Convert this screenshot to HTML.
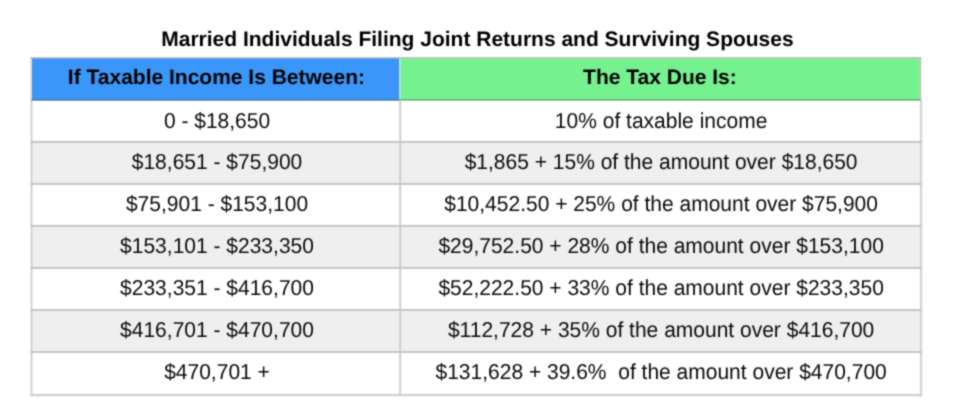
<!DOCTYPE html>
<html><head><meta charset="utf-8"><title>Tax table</title>
<style>
html,body{margin:0;padding:0;background:#fff;}
body{width:960px;height:419px;overflow:hidden;}
svg{display:block;text-rendering:geometricPrecision;font-family:"Liberation Sans",Arial,sans-serif;}
.t{font-size:21px;fill:#0a0a0a;text-anchor:middle;}
.b{font-size:21px;font-weight:bold;fill:#000;text-anchor:middle;}
.ti{font-size:21.01px;font-weight:bold;fill:#000;text-anchor:middle;}
</style></head><body>
<svg width="960" height="419" viewBox="0 0 960 419">
<defs><filter id="bl" filterUnits="userSpaceOnUse" x="0" y="0" width="960" height="419" color-interpolation-filters="sRGB"><feConvolveMatrix order="3" kernelMatrix="0.0361 0.1178 0.0361 0.1178 0.3846 0.1178 0.0361 0.1178 0.0361" edgeMode="duplicate" preserveAlpha="false"/></filter></defs>
<rect x="0" y="0" width="960" height="419" fill="#ffffff"/>
<g filter="url(#bl)">
<rect x="0" y="0" width="960" height="419" fill="#ffffff"/>
<rect x="31.80" y="58.20" width="367.50" height="42.38" fill="#3a96f8"/>
<rect x="400.30" y="58.20" width="519.30" height="42.38" fill="#76f190"/>
<rect x="31.50" y="141.90" width="889.50" height="42.02" fill="#efefef"/>
<rect x="31.50" y="225.94" width="889.50" height="42.02" fill="#efefef"/>
<rect x="31.50" y="309.98" width="889.50" height="42.02" fill="#efefef"/>
<rect x="30.30" y="57.20" width="1.50" height="43.38" fill="#ddd8d0"/>
<rect x="30.50" y="100.58" width="2.00" height="295.62" fill="#d2d2d2"/>
<rect x="399.30" y="58.20" width="1.00" height="42.38" fill="#c4cce0"/>
<rect x="399.20" y="100.58" width="2.00" height="294.52" fill="#cecece"/>
<rect x="919.60" y="57.20" width="1.50" height="43.38" fill="#a9c4ad"/>
<rect x="919.90" y="100.58" width="2.30" height="295.62" fill="#d4d4d4"/>
<rect x="30.70" y="57.20" width="890.40" height="1.20" fill="#b4b4b4"/>
<rect x="31.00" y="99.08" width="890.10" height="1.50" fill="#404040" fill-opacity="0.36"/>
<rect x="30.50" y="140.90" width="891.50" height="2.00" fill="#c6c6c6"/>
<rect x="30.50" y="182.92" width="891.50" height="2.00" fill="#c6c6c6"/>
<rect x="30.50" y="224.94" width="891.50" height="2.00" fill="#c6c6c6"/>
<rect x="30.50" y="266.96" width="891.50" height="2.00" fill="#c6c6c6"/>
<rect x="30.50" y="308.98" width="891.50" height="2.00" fill="#c6c6c6"/>
<rect x="30.50" y="351.00" width="891.50" height="2.00" fill="#c6c6c6"/>
<rect x="30.50" y="393.95" width="891.50" height="2.30" fill="#d0d0d0"/>
<text class="ti" x="477.45" y="45.80" xml:space="preserve">Married Individuals Filing Joint Returns and Surviving Spouses</text>
<text class="b" x="216.45" y="83.90" xml:space="preserve">If Taxable Income Is Between:</text>
<text class="b" x="659.95" y="83.90" xml:space="preserve">The Tax Due Is:</text>
<text class="t" transform="translate(217.00,127.65) scale(1,1.03)" xml:space="preserve">0 - $18,650</text>
<text class="t" transform="translate(661.10,127.65) scale(1,1.03)" xml:space="preserve">10% of taxable income</text>
<text class="t" transform="translate(217.00,168.78) scale(1,1.03)" xml:space="preserve">$18,651 - $75,900</text>
<text class="t" transform="translate(661.10,168.78) scale(1,1.03)" xml:space="preserve">$1,865 + 15% of the amount over $18,650</text>
<text class="t" transform="translate(217.00,210.81) scale(1,1.03)" xml:space="preserve">$75,901 - $153,100</text>
<text class="t" transform="translate(661.10,210.81) scale(1,1.03)" xml:space="preserve">$10,452.50 + 25% of the amount over $75,900</text>
<text class="t" transform="translate(217.00,252.84) scale(1,1.03)" xml:space="preserve">$153,101 - $233,350</text>
<text class="t" transform="translate(661.10,252.84) scale(1,1.03)" xml:space="preserve">$29,752.50 + 28% of the amount over $153,100</text>
<text class="t" transform="translate(217.00,294.87) scale(1,1.03)" xml:space="preserve">$233,351 - $416,700</text>
<text class="t" transform="translate(661.10,294.87) scale(1,1.03)" xml:space="preserve">$52,222.50 + 33% of the amount over $233,350</text>
<text class="t" transform="translate(217.00,336.90) scale(1,1.03)" xml:space="preserve">$416,701 - $470,700</text>
<text class="t" transform="translate(661.10,336.90) scale(1,1.03)" xml:space="preserve">$112,728 + 35% of the amount over $416,700</text>
<text class="t" transform="translate(217.00,378.93) scale(1,1.03)" xml:space="preserve">$470,701 +</text>
<text class="t" transform="translate(661.10,378.93) scale(1,1.03)" xml:space="preserve">$131,628 + 39.6%  of the amount over $470,700</text>
</g>
</svg>
</body></html>
